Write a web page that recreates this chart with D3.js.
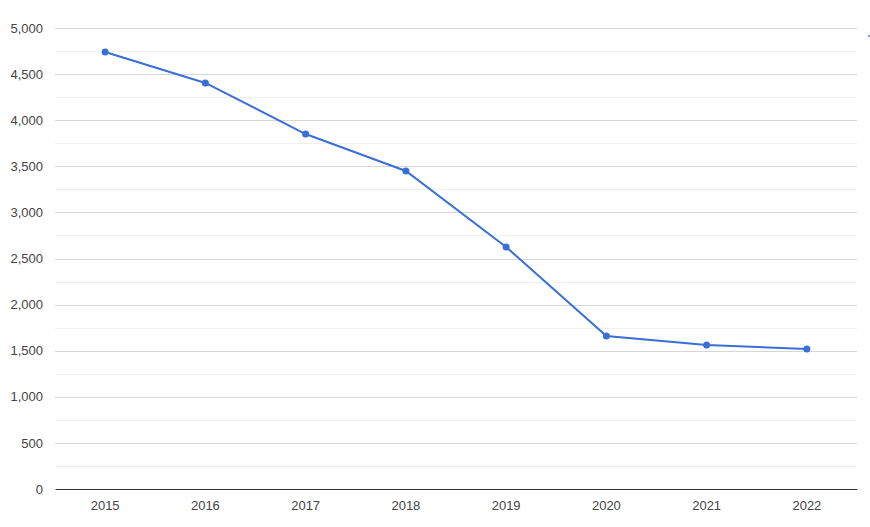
<!DOCTYPE html>
<html><head><meta charset="utf-8">
<script src="https://cdn.jsdelivr.net/npm/d3@7"></script>
<style>body{margin:0;background:#fff;} text{font-family:"Liberation Sans Narrow","Liberation Sans",Arial,sans-serif;}</style>
</head><body><svg id="c" width="870" height="527"></svg>
<script>
const years = ["2015","2016","2017","2018","2019","2020","2021","2022"];
const values = [4740, 4404, 3850, 3449, 2625, 1660, 1562, 1519];
const yTicks = [0,500,1000,1500,2000,2500,3000,3500,4000,4500,5000];
const minorTicks = [250,750,1250,1750,2250,2750,3250,3750,4250,4750];

const svg = d3.select("#c");
const m = {l:55, r:857, t:28, b:489};
const x = d3.scaleBand().domain(years).range([m.l, m.r]);
const y = d3.scaleLinear().domain([0,5000]).range([m.b, m.t]);

svg.append("g").selectAll("line").data(minorTicks).join("line")
  .attr("x1", m.l).attr("x2", m.r).attr("y1", d=>Math.round(y(d))+0.5).attr("y2", d=>Math.round(y(d))+0.5)
  .attr("stroke", "#f0f0f0").attr("stroke-width", 1);
svg.append("g").selectAll("line").data(yTicks.filter(d=>d>0)).join("line")
  .attr("x1", m.l).attr("x2", m.r).attr("y1", d=>Math.round(y(d))+0.5).attr("y2", d=>Math.round(y(d))+0.5)
  .attr("stroke", "#d6d6d6").attr("stroke-width", 1);

const yAxis = svg.append("g").attr("transform", `translate(${m.l},0)`)
  .call(d3.axisLeft(y).tickValues(yTicks).tickFormat(d3.format(",")).tickSize(0).tickPadding(12));
yAxis.select(".domain").remove();
yAxis.selectAll("text").attr("fill", "#444").attr("font-size", 13);

const xAxis = svg.append("g").attr("transform", `translate(0,${m.b})`)
  .call(d3.axisBottom(x).tickSize(0).tickPadding(12));
xAxis.select(".domain").attr("stroke", "#333").attr("stroke-width", 1);
xAxis.selectAll("text").attr("fill", "#444").attr("font-size", 13);

const cx = d => x(d) + x.bandwidth()/2;
const line = d3.line().x((d,i)=>cx(years[i])).y(d=>y(d));
svg.append("path").datum(values).attr("d", line)
  .attr("fill","none").attr("stroke","#3a6fd8").attr("stroke-width",2);
svg.append("g").selectAll("circle").data(values).join("circle")
  .attr("cx",(d,i)=>cx(years[i])).attr("cy",d=>y(d)).attr("r",3.5).attr("fill","#3a6fd8");

svg.append("rect").attr("x",868).attr("y",35).attr("width",2).attr("height",2).attr("fill","#7a9ae0");
</script></body></html>
